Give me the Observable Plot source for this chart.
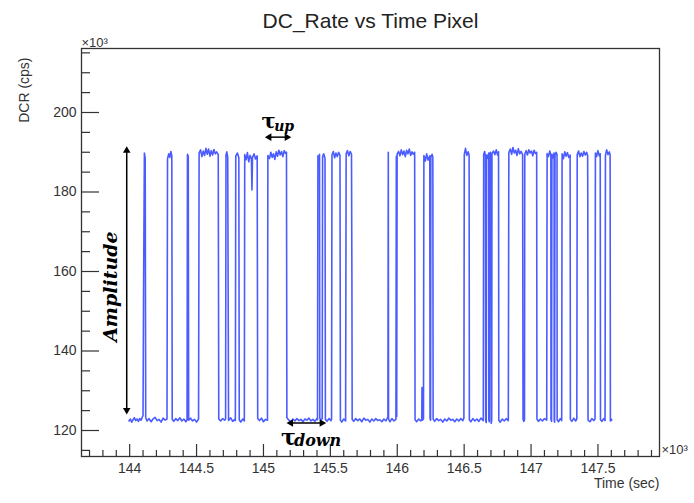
<!DOCTYPE html>
<html><head><meta charset="utf-8">
<script src="https://cdn.jsdelivr.net/npm/d3@7"></script>
<script src="https://cdn.jsdelivr.net/npm/@observablehq/plot@0.6"></script>
<style>body{margin:0;background:#fff;} #chart svg{display:block;}</style>
</head><body><div id="chart"></div>
<script>
// DCR samples: [time (x10^3 s), rate (x10^3 cps)]
const dcrSamples = [
[143.995,122.4],[144.005,122.9],[144.015,122.1],[144.025,122.7],[144.035,123.2],[144.045,122.5],[144.055,122.9],[144.065,122.3],[144.075,123.0],[144.085,122.6],[144.095,123.4],[144.100,123.8],
[144.104,155.5],[144.110,189.8],[144.116,188.6],[144.120,123.2],
[144.130,122.4],[144.145,123.0],[144.160,122.2],[144.175,122.9],[144.190,123.3],[144.205,122.5],[144.220,122.8],[144.235,122.1],[144.250,123.1],[144.265,122.6],[144.279,122.9],
[144.283,188.4],[144.292,189.6],[144.300,188.7],[144.308,190.2],[144.315,189.1],[144.318,122.8],
[144.330,122.3],[144.345,123.0],[144.360,122.5],[144.375,123.2],[144.390,122.4],[144.405,122.9],[144.420,122.2],[144.429,122.7],
[144.432,189.5],[144.438,189.0],[144.441,122.6],
[144.455,123.1],[144.470,122.4],[144.485,122.8],[144.500,122.1],[144.515,122.9],
[144.519,189.8],[144.530,190.6],[144.540,188.9],[144.550,190.3],[144.560,189.2],[144.570,191.0],[144.580,189.5],[144.590,190.8],[144.600,189.0],[144.610,190.4],[144.620,189.3],[144.630,190.7],[144.640,189.6],[144.650,190.1],[144.662,189.4],[144.666,122.9],
[144.680,122.4],[144.695,123.0],[144.710,122.6],[144.717,122.9],
[144.720,189.3],[144.726,190.1],[144.733,188.8],[144.739,122.5],
[144.755,123.2],[144.770,122.3],[144.785,122.8],[144.790,122.5],
[144.793,189.0],[144.805,189.8],[144.816,188.6],[144.819,122.7],
[144.830,122.1],[144.845,122.9],[144.857,122.4],
[144.860,189.4],[144.870,188.1],[144.880,189.9],[144.890,187.6],[144.900,189.2],[144.910,188.4],[144.914,180.5],[144.918,188.7],[144.930,189.6],[144.940,188.3],[144.953,189.1],[144.957,123.0],
[144.970,122.5],[144.985,123.1],[145.000,122.2],[145.015,122.8],[145.030,122.6],
[145.033,189.2],[145.045,188.4],[145.055,190.0],[145.065,188.7],[145.075,189.6],[145.085,188.2],[145.095,190.1],[145.105,189.0],[145.115,190.5],[145.125,189.3],[145.135,190.2],[145.145,188.9],[145.155,190.4],[145.165,189.7],[145.172,190.0],[145.175,123.2],
[145.190,122.6],[145.205,122.1],[145.220,122.9],[145.235,122.4],[145.250,123.0],[145.265,122.5],[145.280,122.8],[145.295,122.2],[145.310,122.9],[145.325,122.6],[145.340,123.1],[145.355,122.4],[145.370,122.8],[145.385,122.3],[145.400,123.0],[145.404,122.7],
[145.407,189.1],[145.414,188.3],[145.419,189.5],[145.421,123.1],
[145.430,122.6],[145.439,123.0],
[145.442,188.9],[145.450,189.6],[145.460,188.5],[145.463,122.8],
[145.475,122.3],[145.490,123.0],[145.505,122.5],[145.509,122.9],
[145.512,189.3],[145.522,190.2],[145.532,188.6],[145.542,189.8],[145.552,188.9],[145.562,190.0],[145.572,189.2],[145.575,122.6],
[145.585,122.1],[145.600,122.9],[145.614,122.4],
[145.618,189.6],[145.628,190.4],[145.638,189.1],[145.648,190.2],[145.658,189.5],[145.661,159.0],[145.663,122.8],
[145.675,122.3],[145.690,123.0],[145.705,122.5],[145.720,122.9],[145.735,122.2],[145.750,123.1],[145.765,122.6],[145.780,122.8],[145.795,122.1],[145.810,122.9],[145.825,122.4],[145.840,123.0],[145.855,122.5],[145.870,122.7],[145.885,122.2],[145.900,122.9],[145.915,122.4],[145.930,123.4],
[145.933,190.0],[145.935,122.9],
[145.945,122.2],[145.960,123.0],[145.975,122.4],[145.990,122.8],
[145.993,189.0],[145.996,123.5],[145.999,189.5],
[146.010,190.2],[146.020,189.1],[146.030,190.6],[146.040,189.4],[146.050,190.3],[146.060,188.9],[146.070,190.5],[146.080,189.6],[146.090,190.8],[146.100,189.2],[146.110,190.1],[146.120,189.5],[146.130,190.0],[146.133,122.7],
[146.145,122.2],[146.160,122.9],[146.175,122.4],[146.183,122.8],[146.185,130.8],[146.187,122.6],[146.196,122.9],
[146.199,189.2],[146.210,187.8],[146.220,189.6],[146.230,188.0],[146.243,189.1],[146.245,123.0],[146.249,122.6],[146.251,188.7],[146.260,189.5],[146.266,188.8],[146.268,122.9],
[146.280,122.3],[146.295,123.0],[146.310,122.5],[146.325,122.8],[146.340,122.1],[146.355,122.9],[146.370,122.4],[146.385,123.1],[146.400,122.6],[146.415,122.8],[146.430,122.2],[146.445,122.9],[146.460,122.4],[146.475,123.0],[146.490,122.5],[146.498,123.1],
[146.501,189.4],[146.510,191.0],[146.520,189.2],[146.530,190.1],[146.537,189.3],[146.539,122.7],
[146.550,122.2],[146.565,123.0],[146.580,122.4],[146.595,122.9],[146.610,122.3],[146.625,123.1],[146.643,122.5],
[146.646,189.5],[146.653,190.2],[146.659,189.0],[146.661,122.4],[146.665,122.0],[146.667,189.3],[146.675,188.5],[146.683,189.8],[146.684,122.7],[146.688,122.2],[146.690,189.1],[146.696,190.0],[146.700,189.2],[146.702,121.8],[146.706,122.5],[146.708,189.7],[146.720,190.3],[146.730,189.4],[146.740,190.6],[146.750,189.3],[146.757,190.1],[146.759,122.6],
[146.770,122.1],[146.785,122.9],[146.800,122.4],[146.815,123.0],[146.830,122.5],
[146.834,189.9],[146.845,190.8],[146.855,189.5],[146.865,191.2],[146.875,189.8],[146.885,190.5],[146.895,189.2],[146.905,190.9],[146.915,189.6],[146.925,190.2],[146.937,189.4],[146.940,122.8],[146.946,122.3],[146.951,122.7],
[146.953,189.5],[146.963,190.4],[146.973,189.3],[146.983,190.6],[146.993,189.8],[147.003,190.3],[147.013,189.1],[147.023,190.5],[147.033,189.7],[147.042,190.0],[147.044,122.9],
[147.055,122.3],[147.070,122.9],[147.085,122.4],[147.100,123.0],[147.117,122.6],
[147.120,189.7],[147.130,188.9],[147.140,190.3],[147.148,189.2],[147.149,122.8],[147.153,122.3],[147.156,189.5],[147.164,188.6],[147.172,189.8],[147.173,122.5],[147.176,122.1],[147.179,189.1],[147.187,190.0],[147.194,189.4],[147.195,122.7],
[147.205,122.2],[147.218,123.0],[147.229,122.5],
[147.232,189.6],[147.242,188.4],[147.252,190.1],[147.262,189.0],[147.272,189.9],[147.282,188.7],[147.292,189.3],[147.294,122.8],
[147.305,122.3],[147.320,123.1],[147.333,122.4],[147.342,122.9],
[147.345,189.4],[147.355,190.3],[147.365,188.9],[147.375,189.8],[147.385,189.0],[147.395,190.2],[147.405,189.3],[147.415,190.0],[147.423,189.2],[147.424,179.0],[147.426,122.6],
[147.440,122.2],[147.455,123.0],[147.469,122.5],[147.478,122.9],
[147.481,189.8],[147.490,188.9],[147.500,190.4],[147.510,189.1],[147.517,189.6],[147.519,122.7],
[147.530,122.3],[147.543,123.0],[147.553,122.5],
[147.556,189.2],[147.565,190.6],[147.575,189.4],[147.585,190.1],[147.591,189.3],[147.593,122.4],
[147.598,122.9],[147.603,122.6]
];

const xMajor = [144, 144.5, 145, 145.5, 146, 146.5, 147, 147.5];
const xMinor = [143.7,143.8,143.9,144.1,144.2,144.3,144.4,144.6,144.7,144.8,144.9,145.1,145.2,145.3,145.4,145.6,145.7,145.8,145.9,146.1,146.2,146.3,146.4,146.6,146.7,146.8,146.9,147.1,147.2,147.3,147.4,147.6,147.7,147.8,147.9];
const yMajor = [120, 140, 160, 180, 200];
const yMinor = [115,125,130,135,145,150,155,165,170,175,185,190,195,205,210,215];

const titleText = "DC_Rate vs Time Pixel";
const xTitle = "Time (sec)";
const yTitle = "DCR (cps)";
const expText = "×10³";

// annotations (data units)
const amplitudeArrow = [{x: 143.978, y1: 124.6, y2: 190.9}];
const amplitudeLabel = [{x: 143.86, y: 156.2, text: "Amplitude"}];
const tauUpArrow = [{x1: 145.028, x2: 145.190, y: 193.8}];
const tauUpLabel = [{x: 145.038, y: 197.9, sym: "τ", sx: 145.080, sy: 196.5, sub: "up"}];
const tauDownArrow = [{x1: 145.190, x2: 145.451, y: 121.9}];
const tauDownLabel = [{x: 145.187, y: 118.2, sym: "τ", sx: 145.228, sy: 117.3, sub: "down"}];

const W = 694, H = 503, mL = 81, mR = 35, mT = 48, mB = 47;
const plotW = W - mL - mR, plotH = H - mT - mB;
const axisColor = "#333";

const chart = Plot.plot({
  width: W, height: H,
  marginLeft: mL, marginRight: mR, marginTop: mT, marginBottom: mB,
  style: {fontFamily: "'Liberation Sans', Arial, Helvetica, sans-serif", fontSize: "14px", color: "#333", background: "#fff", overflow: "visible"},
  x: {domain: [143.64, 147.96]},
  y: {domain: [113.46, 216.1]},
  marks: [
    Plot.line(dcrSamples, {x: d => d[0], y: d => d[1], stroke: "#2b40ff", strokeWidth: 1.6, strokeOpacity: 0.85}),
    // inward ticks (ROOT style)
    Plot.tickY(yMajor, {y: d => d, insetRight: plotW - 18, stroke: axisColor, strokeWidth: 1.2}),
    Plot.tickY(yMinor, {y: d => d, insetRight: plotW - 9, stroke: axisColor, strokeWidth: 1.2}),
    Plot.tickX(xMajor, {x: d => d, insetTop: plotH - 12, stroke: axisColor, strokeWidth: 1.2}),
    Plot.tickX(xMinor, {x: d => d, insetTop: plotH - 6, stroke: axisColor, strokeWidth: 1.2}),
    Plot.axisY(yMajor, {tickSize: 0, tickPadding: 5, label: null, fontSize: 14}),
    Plot.axisX(xMajor, {tickSize: 0, tickPadding: 7, label: null, fontSize: 14, tickFormat: d => String(d)}),
    Plot.frame({stroke: axisColor, strokeWidth: 1.3}),
    // titles
    Plot.text([titleText], {text: d => d, frameAnchor: "top", dy: -21, lineAnchor: "bottom", fontSize: 21, fill: "#222"}),
    Plot.text([yTitle], {text: d => d, frameAnchor: "top-left", dx: -62, dy: 9, rotate: -90, textAnchor: "end", fontSize: 14, fill: "#333"}),
    Plot.text([xTitle], {text: d => d, frameAnchor: "bottom-right", dy: 31, textAnchor: "end", fontSize: 14, fill: "#333"}),
    Plot.text([expText], {text: d => d, frameAnchor: "top-left", dy: -2, lineAnchor: "bottom", textAnchor: "start", fontSize: 13, fill: "#333"}),
    Plot.text([expText], {text: d => d, frameAnchor: "bottom-right", dx: 2, dy: -3, textAnchor: "start", fontSize: 13, fill: "#333"}),
    // Amplitude annotation
    Plot.link(amplitudeArrow, {x1: "x", x2: "x", y1: d => d.y1, y2: d => d.y2, stroke: "black", strokeWidth: 1.5}),
    Plot.dot(amplitudeArrow, {x: "x", y: "y2", symbol: "triangle", r: 2.8, fill: "black", stroke: null, dy: 2}),
    Plot.dot(amplitudeArrow, {x: "x", y: "y1", symbol: "triangle", r: 2.8, rotate: 180, fill: "black", stroke: null, dy: -2}),
    Plot.text(amplitudeLabel, {x: "x", y: "y", text: "text", rotate: -90, fontFamily: "'DejaVu Serif', serif", fontStyle: "italic", fontWeight: "bold", fontSize: 19, fill: "black"}),
    // tau up
    Plot.link(tauUpArrow, {x1: "x1", x2: "x2", y1: "y", y2: "y", stroke: "black", strokeWidth: 1.5}),
    Plot.dot(tauUpArrow, {x: "x1", y: "y", symbol: "triangle", r: 2.8, rotate: -90, fill: "black", stroke: null, dx: 2}),
    Plot.dot(tauUpArrow, {x: "x2", y: "y", symbol: "triangle", r: 2.8, rotate: 90, fill: "black", stroke: null, dx: -2}),
    Plot.text(tauUpLabel, {x: "x", y: "y", text: "sym", fontFamily: "'DejaVu Serif', serif", fontWeight: "bold", fontSize: 21, fill: "black"}),
    Plot.text(tauUpLabel, {x: "sx", y: "sy", text: "sub", textAnchor: "start", fontFamily: "'DejaVu Serif', serif", fontWeight: "bold", fontStyle: "italic", fontSize: 14, fill: "black"}),
    // tau down
    Plot.link(tauDownArrow, {x1: "x1", x2: "x2", y1: "y", y2: "y", stroke: "black", strokeWidth: 1.5}),
    Plot.dot(tauDownArrow, {x: "x1", y: "y", symbol: "triangle", r: 2.8, rotate: -90, fill: "black", stroke: null, dx: 2}),
    Plot.dot(tauDownArrow, {x: "x2", y: "y", symbol: "triangle", r: 2.8, rotate: 90, fill: "black", stroke: null, dx: -2}),
    Plot.text(tauDownLabel, {x: "x", y: "y", text: "sym", fontFamily: "'DejaVu Serif', serif", fontWeight: "bold", fontSize: 22, fill: "black"}),
    Plot.text(tauDownLabel, {x: "sx", y: "sy", text: "sub", textAnchor: "start", fontFamily: "'DejaVu Serif', serif", fontWeight: "bold", fontStyle: "italic", fontSize: 16, fill: "black"})
  ]
});
document.getElementById("chart").appendChild(chart);
</script>
</body></html>
